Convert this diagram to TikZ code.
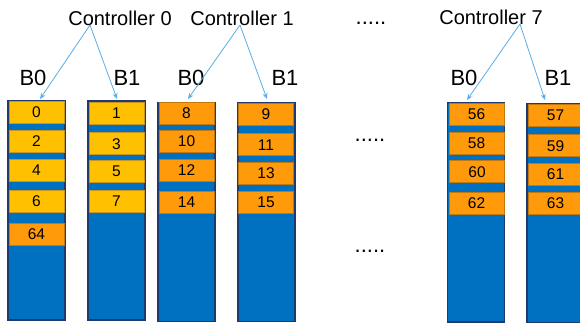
\documentclass[tikz,border=0pt]{standalone}
\usepackage{fontspec}
\setmainfont{Liberation Sans}
\usetikzlibrary{arrows.meta}
\definecolor{colblue}{HTML}{0070C0}
\definecolor{navy}{HTML}{1F3A6E}
\definecolor{cyel}{HTML}{FFC000}
\definecolor{cyelb}{HTML}{C8961E}
\definecolor{corg}{HTML}{FF9A0A}
\definecolor{corgb}{HTML}{C2770F}
\definecolor{arrblue}{HTML}{5AAEE4}
\tikzset{
  bank/.style={rectangle, fill=colblue, draw=navy, line width=1.3pt, minimum width=57pt, minimum height=219pt, inner sep=0pt},
  cellbase/.style={rectangle, line width=1pt, minimum width=55pt, minimum height=22pt, inner sep=0pt, font=\fontsize{15.5}{15.5}\selectfont},
  ycell/.style={cellbase, fill=cyel, draw=cyelb},
  ocell/.style={cellbase, fill=corg, draw=corgb},
  ctrl/.style={font=\fontsize{20}{20}\selectfont, inner sep=0pt},
  blab/.style={font=\fontsize{22}{22}\selectfont, inner sep=0pt},
  dots/.style={font=\fontsize{22}{22}\selectfont, inner sep=0pt},
  link/.style={arrblue, line width=0.8pt, -{Stealth[length=6pt,width=5pt]}}
}
\begin{document}
\begin{tikzpicture}[x=1pt,y=-1pt]
\clip (0,0) rectangle (580,325);
\fill[white] (0,0) rectangle (580,325);
% banks
\node[bank] (k1) at (36.5,210.5) {};
\node[bank] (k2) at (116.5,210.5) {};
\node[bank] (k3) at (186.5,212) {};
\node[bank] (k4) at (266.5,212) {};
\node[bank] (k5) at (476,212.5) {};
\node[bank] (k6) at (555.5,213) {};
% cells column 1
\node[ycell] (n0) at (36.5,112.5) {0};
\node[ycell] (n2) at (36.5,141.3) {2};
\node[ycell] (n4) at (36.5,170) {4};
\node[ycell] (n6) at (36.5,201) {6};
\node[ocell] (n64) at (36.5,234.3) {64};
% column 2
\node[ycell] (n1) at (116.5,113) {1};
\node[ycell] (n3) at (116.5,143.8) {3};
\node[ycell] (n5) at (116.5,171.7) {5};
\node[ycell] (n7) at (116.5,201) {7};
% column 3
\node[ocell] (n8) at (186.5,113) {8};
\node[ocell] (n10) at (186.5,141.3) {10};
\node[ocell] (n12) at (186.5,170.5) {12};
\node[ocell] (n14) at (186.5,202.5) {14};
% column 4
\node[ocell] (n9) at (266,114.3) {9};
\node[ocell] (n11) at (266,144.8) {11};
\node[ocell] (n13) at (266,173) {13};
\node[ocell] (n15) at (266,202.5) {15};
% column 5
\node[ocell] (n56) at (476.5,114.5) {56};
\node[ocell] (n58) at (476.5,143) {58};
\node[ocell] (n60) at (477,171.7) {60};
\node[ocell] (n62) at (476.5,203.3) {62};
% column 6
\node[ocell] (n57) at (555.5,115.7) {57};
\node[ocell] (n59) at (555.5,145.8) {59};
\node[ocell] (n61) at (555.5,174.2) {61};
\node[ocell] (n63) at (555.5,203.3) {63};
% labels
\node[ctrl] (c0) at (120,18) {Controller 0};
\node[ctrl] (c1) at (242,18) {Controller 1};
\node[ctrl] (c7) at (491,17) {Controller 7};
\node[dots] (d1) at (371,23) {.....};
\node[dots] (d2) at (370,140) {.....};
\node[dots] (d3) at (370,251) {.....};
\node[blab] (b01) at (33,78) {B0};
\node[blab] (b11) at (127,78) {B1};
\node[blab] (b03) at (191,78) {B0};
\node[blab] (b14) at (285,78) {B1};
\node[blab] (b05) at (464,78) {B0};
\node[blab] (b16) at (558,78) {B1};
% arrow anchors
\coordinate (s0) at (90,25);
\coordinate (s1) at (240,25);
\coordinate (s7) at (520,24);
\coordinate (e1) at (40,99);
\coordinate (e2) at (117,99);
\coordinate (e3) at (188,99);
\coordinate (e4) at (267,99);
\coordinate (e5) at (467,100);
\coordinate (e6) at (545,100);
\draw[link] (s0) -- (e1);
\draw[link] (s0) -- (e2);
\draw[link] (s1) -- (e3);
\draw[link] (s1) -- (e4);
\draw[link] (s7) -- (e5);
\draw[link] (s7) -- (e6);
\end{tikzpicture}
\end{document}
